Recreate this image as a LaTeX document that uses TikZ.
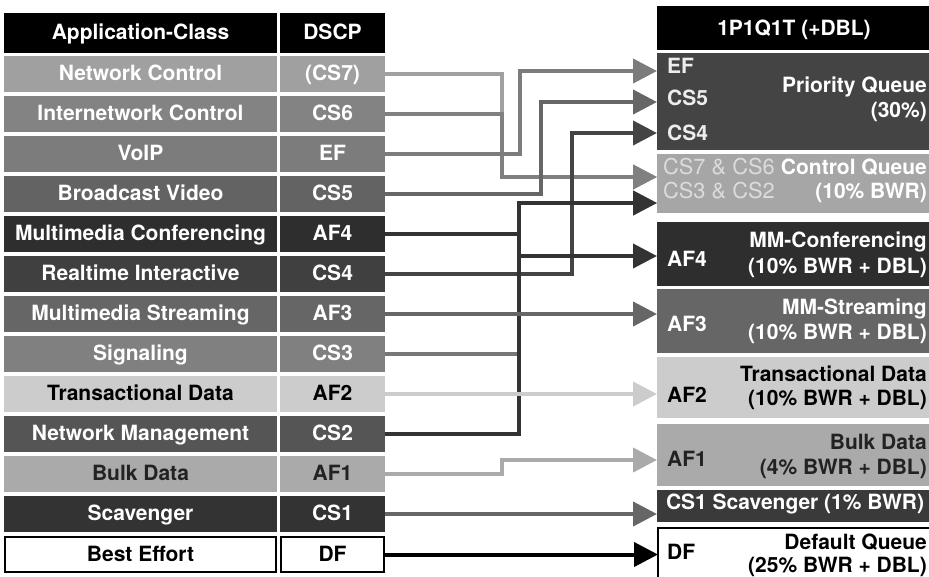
\documentclass[tikz,border=0pt]{standalone}
\usepackage{fontspec}
\setmainfont{TeX Gyre Heros}
\usetikzlibrary{arrows.meta}

\definecolor{gA0}{HTML}{A0A0A0}
\definecolor{g83}{HTML}{838383}
\definecolor{g7C}{HTML}{7C7C7C}
\definecolor{g63}{HTML}{636363}
\definecolor{g2E}{HTML}{2E2E2E}
\definecolor{g40}{HTML}{404040}
\definecolor{g66}{HTML}{666666}
\definecolor{g80}{HTML}{808080}
\definecolor{gCC}{HTML}{CCCCCC}
\definecolor{g55}{HTML}{555555}
\definecolor{gAA}{HTML}{AAAAAA}
\definecolor{g33}{HTML}{333333}
\definecolor{g22}{HTML}{222222}
\definecolor{g44}{HTML}{444444}
\definecolor{gA6}{HTML}{A6A6A6}
\definecolor{g3A}{HTML}{3A3A3A}
\definecolor{gDC}{HTML}{DCDCDC}
\definecolor{g77}{HTML}{777777}

\tikzset{
  cellbase/.style={inner sep=0pt, outer sep=0pt, minimum height=36pt, text=white,
    font=\fontsize{21}{25}\selectfont\bfseries, text height=15pt, text depth=1.5pt},
  classcell/.style={cellbase, minimum width=273pt},
  dscpcell/.style={cellbase, minimum width=105pt},
  qbox/.style={inner sep=0pt, outer sep=0pt, minimum width=272pt},
  qtxt/.style={inner sep=0pt, text=white, font=\fontsize{21}{25}\selectfont\bfseries},
  qtag/.style={inner sep=0pt, text=gDC, font=\fontsize{21.8}{25}\selectfont},
  conn/.style={line width=4pt, -{Triangle[length=24pt,width=24pt]}},
}

\begin{document}
\begin{tikzpicture}[x=1pt,y=-1pt]
\useasboundingbox (0,0) rectangle (929,576);

% ---------- application classes and their DSCP marks ----------
\node[classcell, fill=black, minimum height=40pt] (hc) at (140.5,33) {Application-Class};
\node[dscpcell, fill=black, minimum height=40pt] (hd) at (332.5,33) {DSCP};

\node[classcell, fill=gA0] (c0) at (140.5,74) {Network Control};
\node[dscpcell, fill=gA0] (d0) at (332.5,74) {(CS7)};
\node[classcell, fill=g83] (c1) at (140.5,114) {Internetwork Control};
\node[dscpcell, fill=g83] (d1) at (332.5,114) {CS6};
\node[classcell, fill=g7C] (c2) at (140.5,154) {VoIP};
\node[dscpcell, fill=g7C] (d2) at (332.5,154) {EF};
\node[classcell, fill=g63] (c3) at (140.5,194) {Broadcast Video};
\node[dscpcell, fill=g63] (d3) at (332.5,194) {CS5};
\node[classcell, fill=g2E] (c4) at (140.5,234) {Multimedia Conferencing};
\node[dscpcell, fill=g2E] (d4) at (332.5,234) {AF4};
\node[classcell, fill=g40] (c5) at (140.5,274) {Realtime Interactive};
\node[dscpcell, fill=g40] (d5) at (332.5,274) {CS4};
\node[classcell, fill=g66] (c6) at (140.5,314) {Multimedia Streaming};
\node[dscpcell, fill=g66] (d6) at (332.5,314) {AF3};
\node[classcell, fill=g80] (c7) at (140.5,354) {Signaling};
\node[dscpcell, fill=g80] (d7) at (332.5,354) {CS3};
\node[classcell, fill=gCC, text=black] (c8) at (140.5,394) {Transactional Data};
\node[dscpcell, fill=gCC, text=black] (d8) at (332.5,394) {AF2};
\node[classcell, fill=g55] (c9) at (140.5,434) {Network Management};
\node[dscpcell, fill=g55] (d9) at (332.5,434) {CS2};
\node[classcell, fill=gAA, text=g22] (c10) at (140.5,474) {Bulk Data};
\node[dscpcell, fill=gAA, text=g22] (d10) at (332.5,474) {AF1};
\node[classcell, fill=g33] (c11) at (140.5,514) {Scavenger};
\node[dscpcell, fill=g33] (d11) at (332.5,514) {CS1};
\node[classcell, fill=white, draw=black, line width=2pt, text=black,
      minimum width=271pt, minimum height=35pt] (c12) at (140.5,554.5) {Best Effort};
\node[dscpcell, fill=white, draw=black, line width=2pt, text=black,
      minimum width=103pt, minimum height=35pt] (d12) at (332.5,554.5) {DF};

% ---------- 1P1Q1T queues ----------
\node[qbox, fill=black, minimum height=44pt] (qh) at (793,28) {};
\node[qtxt, anchor=base] (qht) at (794,35) {1P1Q1T (+DBL)};

\node[qbox, fill=g44, minimum height=97pt] (pq) at (793,101.5) {};
\node[qtxt, anchor=base east] (pq1) at (927,92) {Priority Queue};
\node[qtxt, anchor=base east] (pq2) at (927,117) {(30\%)};
\node[qtxt, anchor=base west, text=white!93!black] (pqa) at (667,73) {EF};
\node[qtxt, anchor=base west, text=white!93!black] (pqb) at (667,105) {CS5};
\node[qtxt, anchor=base west, text=white!93!black] (pqc) at (667,140) {CS4};

\node[qbox, fill=gA6, minimum height=59pt] (cq) at (793,183.5) {};
\node[qtxt, anchor=base east] (cq1) at (927,174) {Control Queue};
\node[qtxt, anchor=base east] (cq2) at (927,198) {(10\% BWR)};
\node[qtag, anchor=base west] (cqa) at (663,174) {CS7 \& CS6};
\node[qtag, anchor=base west] (cqb) at (663,198) {CS3 \& CS2};

\node[qbox, fill=g2E, minimum height=64pt] (mmc) at (793,254) {};
\node[qtxt, anchor=base east] (mmc1) at (927,247) {MM-Conferencing};
\node[qtxt, anchor=base east] (mmc2) at (927,273) {(10\% BWR + DBL)};
\node[qtxt, anchor=base west] (mmca) at (667,266) {AF4};

\node[qbox, fill=g66, minimum height=64pt] (mms) at (793,321) {};
\node[qtxt, anchor=base east] (mms1) at (927,314) {MM-Streaming};
\node[qtxt, anchor=base east] (mms2) at (927,339) {(10\% BWR + DBL)};
\node[qtxt, anchor=base west] (mmsa) at (667,331) {AF3};

\node[qbox, fill=gCC, minimum height=61pt] (trd) at (793,387.5) {};
\node[qtxt, anchor=base east, text=black] (trd1) at (927,381) {Transactional Data};
\node[qtxt, anchor=base east, text=black] (trd2) at (927,405) {(10\% BWR + DBL)};
\node[qtxt, anchor=base west, text=black] (trda) at (667,402) {AF2};

\node[qbox, fill=gAA, minimum height=62pt] (bulk) at (793,455) {};
\node[qtxt, anchor=base east, text=g22] (bulk1) at (927,449) {Bulk Data};
\node[qtxt, anchor=base east, text=g22] (bulk2) at (927,474) {(4\% BWR + DBL)};
\node[qtxt, anchor=base west, text=g22] (bulka) at (667,466) {AF1};

\node[qbox, fill=g3A, minimum height=32pt] (scav) at (793,506) {};
\node[qtxt, anchor=base] (scavt) at (795,509) {CS1 Scavenger (1\% BWR)};

\node[qbox, fill=white, draw=black, line width=2pt, minimum width=273pt,
      minimum height=54pt] (dflt) at (794.5,555) {};
\node[qtxt, anchor=base east, text=black] (dflt1) at (927,549) {Default Queue};
\node[qtxt, anchor=base east, text=black] (dflt2) at (927,572) {(25\% BWR + DBL)};
\node[qtxt, anchor=base west, text=black] (dflta) at (667,559) {DF};

% arrow entry points on the queue boxes
\coordinate (tEF)  at (657,71);
\coordinate (tCS5) at (657,102);
\coordinate (tCS4) at (657,133);
\coordinate (tCQa) at (657,177);
\coordinate (tCQb) at (657,203);
\coordinate (tAF4) at (657,256);
\coordinate (tAF1) at (657,460);

% ---------- mapping of marks to queues ----------
\draw[conn, gA0] (d0.east) -- ++(117,0) |- (tCQa);
\draw[conn, g80] (d1.east) -- ++(117,0) |- (tCQa);
\draw[conn, g7C] (d2.east) -- ++(135,0) |- (tEF);
\draw[conn, g66] (d3.east) -- ++(156,0) |- (tCS5);
\draw[conn, g44] (d5.east) -- ++(187,0) |- (tCS4);
\draw[conn, g33] (d4.east) -- ++(134,0) |- (tAF4);
\draw[conn, g77] (d7.east) -- ++(134,0) |- (tCQb);
\draw[conn, g33] (d9.east) -- ++(134,0) |- (tCQb);
\draw[conn, g66] (d6.east) -- (d6.east -| mms.west);
\draw[conn, gCC] (d8.east) -- (d8.east -| trd.west);
\draw[conn, gAA] (d10.east) -- ++(117,0) |- (tAF1);
\draw[conn, g66] (d11.east) -- (d11.east -| scav.west);
\draw[conn, black] (d12.east) -- (d12.east -| dflt.west);
\end{tikzpicture}
\end{document}
